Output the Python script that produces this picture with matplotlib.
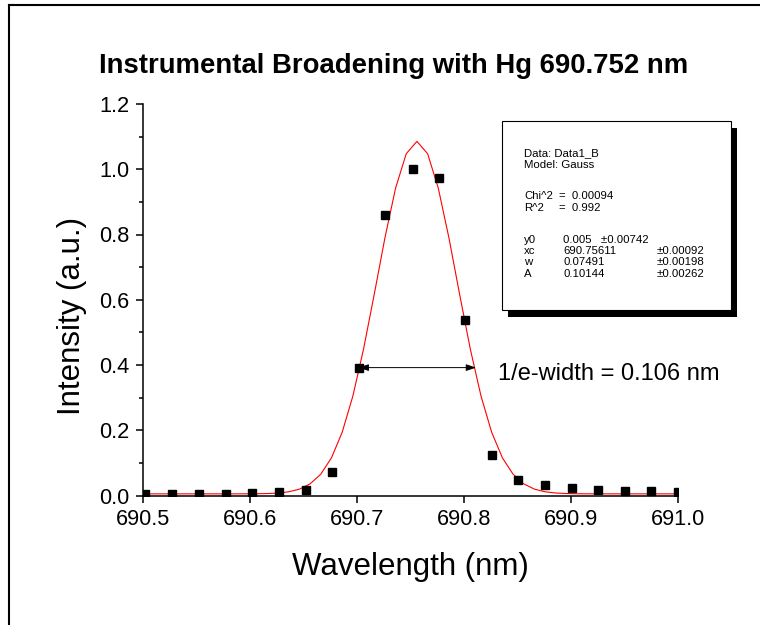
import numpy as np
import matplotlib
matplotlib.use("Agg")
import matplotlib.pyplot as plt
from matplotlib.patches import Rectangle
from matplotlib.lines import Line2D

plt.rcParams['font.family'] = ['Liberation Sans', 'DejaVu Sans']

# ---- data ----
wavelength = [690.502, 690.527, 690.552, 690.577, 690.602, 690.627, 690.652,
              690.677, 690.7015, 690.7265, 690.752, 690.777, 690.8015, 690.826,
              690.851, 690.876, 690.9015, 690.926, 690.951, 690.975, 691.0]
intensity = [0.005, 0.006, 0.006, 0.006, 0.008, 0.010, 0.017,
             0.073, 0.392, 0.861, 1.000, 0.972, 0.539, 0.125,
             0.049, 0.031, 0.023, 0.018, 0.0135, 0.0125, 0.010]

# Gauss fit parameters (as reported)
fit_y0, fit_y0_err = 0.005, 0.00742
fit_xc, fit_xc_err = 690.75611, 0.00092
fit_w, fit_w_err = 0.07491, 0.00198
fit_A, fit_A_err = 0.10144, 0.00262
chi2 = 0.00094
r2 = 0.992

width_start = 690.7015
width_end = 690.8115
width_level = 0.392
width_label = "1/e-width = 0.106 nm"

xticks = [690.5, 690.6, 690.7, 690.8, 690.9, 691.0]
yticks = [0.0, 0.2, 0.4, 0.6, 0.8, 1.0, 1.2]

W, H = 760, 625
fig = plt.figure(figsize=(W / 100, H / 100), dpi=100)
fx = lambda px: px / W
fy = lambda py: 1 - py / H

ax = fig.add_axes([fx(143.3), fy(495.5), fx(677.5) - fx(143.3), fy(104) - fy(495.5)])

# fit curve
xs = fit_xc + 0.01 * np.arange(-26, 26)
xs = xs[(xs >= 690.5) & (xs <= 691.0)]
xs = np.concatenate([[690.5], xs, [691.0]])
ys = fit_y0 + fit_A / (fit_w * np.sqrt(np.pi / 2)) * np.exp(-2 * ((xs - fit_xc) / fit_w) ** 2)
ax.plot(xs, ys, color='#ff0000', lw=0.8, zorder=2)

ax.plot(wavelength, intensity, ls='none', marker='s', ms=5.4, color='black', zorder=3)

ax.set_xlim(690.5, 691.0)
ax.set_ylim(0, 1.2)
ax.set_xticks(xticks)
ax.set_xticklabels([f"{v:.1f}" for v in xticks])
ax.set_yticks(yticks)
ax.set_yticklabels([f"{v:.1f}" for v in yticks])
ax.set_yticks(np.arange(0.1, 1.2, 0.2), minor=True)
for s in ['top', 'right']:
    ax.spines[s].set_visible(False)
for s in ['left', 'bottom']:
    ax.spines[s].set_linewidth(1.1)
ax.tick_params(axis='both', which='major', direction='out', length=5, width=1.1,
               labelsize=15.7, pad=5)
ax.tick_params(axis='y', which='minor', direction='out', length=3, width=1.1)
ax.patch.set_alpha(0)

# width arrow
ax.annotate('', xy=(width_end, width_level), xytext=(width_start, width_level),
            arrowprops=dict(arrowstyle='<|-|>,head_length=0.6,head_width=0.2',
                            color='black', lw=0.7, shrinkA=0, shrinkB=0), zorder=4)
fig.text(fx(498), fy(380.5), width_label, fontsize=17, ha='left', va='baseline')

# labels
fig.text(fx(393.5), fy(73), "Instrumental Broadening with Hg 690.752 nm",
         fontsize=19.8, fontweight='bold', ha='center', va='baseline')
fig.text(fx(410), fy(575), "Wavelength (nm)", fontsize=22.5, ha='center', va='baseline')
fig.text(fx(72), fy(316), "Intensity (a.u.)", fontsize=22.5, rotation=90,
         ha='center', va='center')

# fit results box with shadow
fig.patches.append(Rectangle((fx(508), fy(317)), fx(737) - fx(508), fy(128) - fy(317),
                             transform=fig.transFigure, facecolor='black',
                             edgecolor='none', zorder=5))
fig.patches.append(Rectangle((fx(501.7), fy(310)), fx(730.7) - fx(501.7), fy(121) - fy(310),
                             transform=fig.transFigure, facecolor='white',
                             edgecolor='black', lw=0.8, zorder=6))
fs = 8.2
rows = [
    (155.7, [(524.3, "Data: Data1_B")]),
    (167.8, [(524.3, "Model: Gauss")]),
    (199.0, [(524.3, "Chi^2"), (559, f"=  {chi2:.5f}")]),
    (211.0, [(524.3, "R^2"), (559, f"=  {r2:.3f}")]),
    (242.7, [(524.3, "y0"), (563.3, f"{fit_y0:.3f}   \u00b1{fit_y0_err:.5f}")]),
    (254.0, [(524.3, "xc"), (563.3, f"{fit_xc:.5f}"), (656.7, f"\u00b1{fit_xc_err:.5f}")]),
    (265.3, [(524.3, "w"), (563.3, f"{fit_w:.5f}"), (656.7, f"\u00b1{fit_w_err:.5f}")]),
    (276.6, [(524.3, "A"), (563.3, f"{fit_A:.5f}"), (656.7, f"\u00b1{fit_A_err:.5f}")]),
]
for yb, items in rows:
    for xl, t in items:
        fig.text(fx(xl), fy(yb), t, fontsize=fs, ha='left', va='baseline', zorder=7)

# outer frame (top and left edges visible)
fig.lines.append(Line2D([fx(9), fx(9)], [fy(4.5), 0], transform=fig.transFigure,
                        color='black', lw=1.5))
fig.lines.append(Line2D([fx(9), 1], [fy(4.5), fy(4.5)], transform=fig.transFigure,
                        color='black', lw=1.5))

fig.savefig("out.png", dpi=100)
